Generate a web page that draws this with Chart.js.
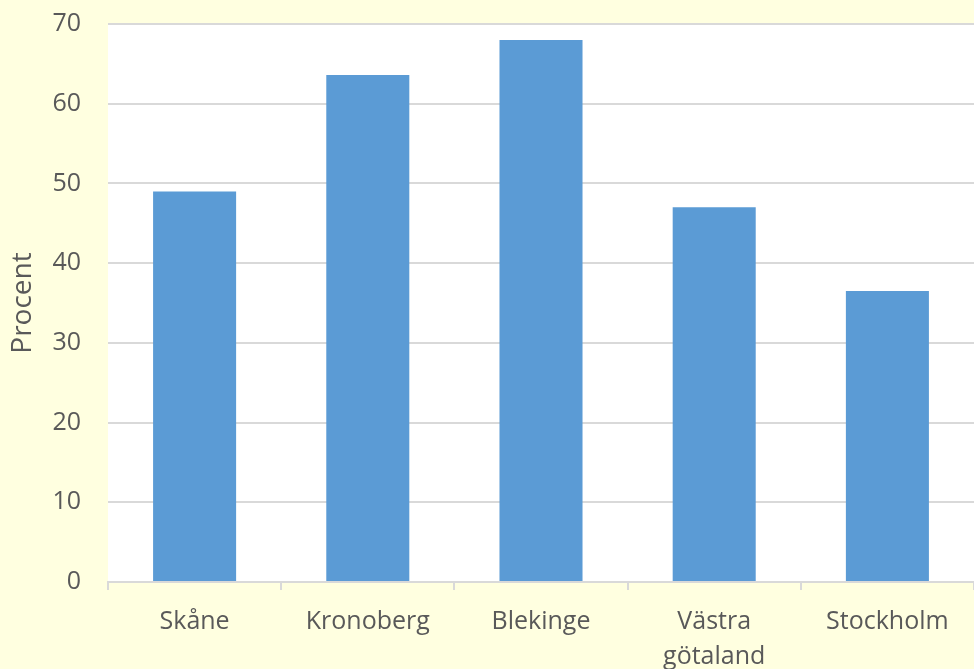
<!DOCTYPE html>
<html lang="sv">
<head>
    <meta charset="UTF-8">
    <title>Procent per län</title>
    <style>
        html, body {
            margin: 0;
            padding: 0;
            background: #ffffe0;
        }
        #wrap {
            width: 974px;
            height: 669px;
        }
    </style>
</head>
<body>
    <div id="wrap"><canvas id="myChart"></canvas></div>

    <script src="https://cdn.jsdelivr.net/npm/chart.js"></script>
    <script>
        // Data
        const categories = ['Skåne', 'Kronoberg', 'Blekinge', ['Västra', 'götaland'], 'Stockholm'];
        const values = [49, 63.6, 68, 47, 36.5];
        const yTicks = [0, 10, 20, 30, 40, 50, 60, 70];

        const fontFam = '"Open Sans", "Noto Sans", sans-serif';

        // vit bakgrund bara i själva diagramytan
        const plotBg = {
            id: 'plotBg',
            beforeDraw(chart) {
                const a = chart.chartArea;
                const ctx = chart.ctx;
                ctx.save();
                ctx.fillStyle = '#ffffff';
                ctx.fillRect(a.left, a.top, a.right - a.left, a.bottom - a.top);
                ctx.restore();
            }
        };

        const ctx = document.getElementById('myChart').getContext('2d');
        new Chart(ctx, {
            type: 'bar',
            data: {
                labels: categories,
                datasets: [{
                    label: 'Procent',
                    data: values,
                    backgroundColor: '#5b9bd5',
                    borderWidth: 0,
                    categoryPercentage: 0.94,
                    barPercentage: 0.51
                }]
            },
            options: {
                responsive: true,
                maintainAspectRatio: false,
                animation: false,
                layout: { padding: { top: 24, right: 0, left: 0, bottom: 0 } },
                plugins: {
                    legend: { display: false },
                    tooltip: { enabled: false }
                },
                scales: {
                    x: {
                        offset: true,
                        grid: {
                            offset: true,
                            drawOnChartArea: false,
                            color: '#d9d9d9',
                            lineWidth: 2,
                            tickLength: 8
                        },
                        border: { color: '#d9d9d9', width: 2 },
                        ticks: {
                            color: '#595959',
                            padding: 14,
                            maxRotation: 0,
                            autoSkip: false,
                            font: { family: fontFam, size: 25, lineHeight: 1.4 }
                        },
                        afterFit(scale) {
                            scale.height = 87;
                            scale.paddingLeft = 0;
                            scale.paddingRight = 0;
                        }
                    },
                    y: {
                        min: 0,
                        max: 70,
                        afterBuildTicks(scale) {
                            scale.ticks = yTicks.map(v => ({ value: v }));
                        },
                        grid: {
                            color: '#d9d9d9',
                            lineWidth: 2,
                            drawTicks: false
                        },
                        border: { display: false },
                        ticks: {
                            color: '#595959',
                            padding: 27,
                            font: { family: fontFam, size: 25, lineHeight: 1 }
                        },
                        title: {
                            display: true,
                            text: 'Procent',
                            color: '#595959',
                            padding: { top: 6, bottom: 0 },
                            font: { family: fontFam, size: 28 }
                        },
                        afterFit(scale) {
                            scale.width = 108;
                            scale.paddingTop = 0;
                            scale.paddingBottom = 0;
                        }
                    }
                }
            },
            plugins: [plotBg]
        });
    </script>
</body>
</html>
